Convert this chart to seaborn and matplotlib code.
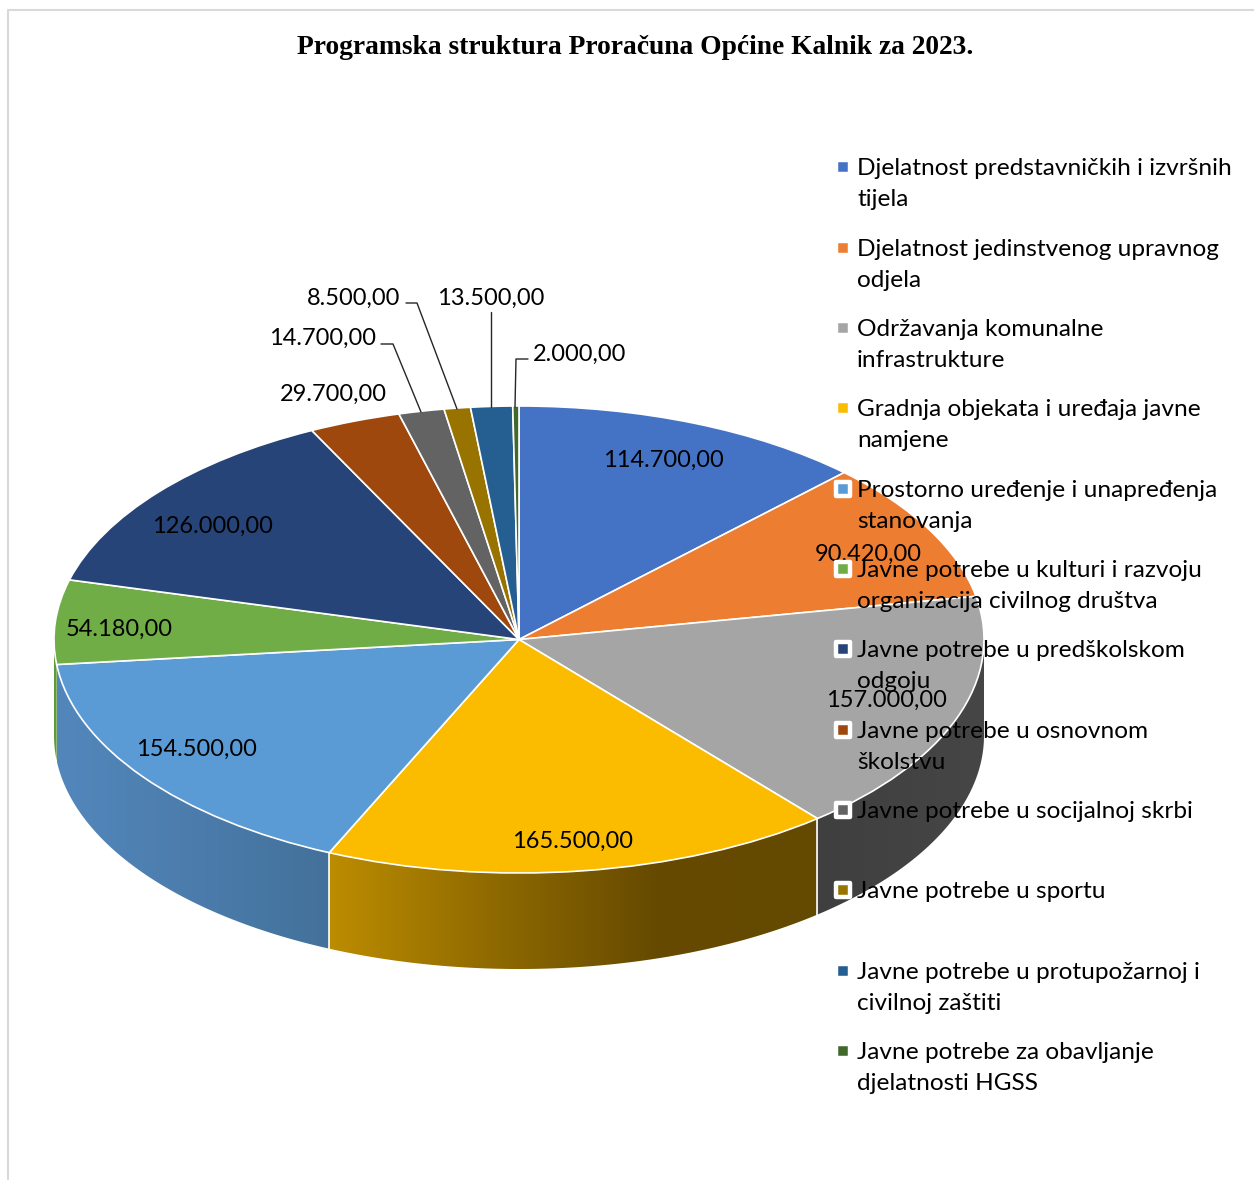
import numpy as np
import matplotlib
matplotlib.use('Agg')
import matplotlib.pyplot as plt
from matplotlib.colors import to_rgb
from matplotlib.patches import Polygon, Rectangle
import seaborn as sns

W, H = 1254, 1180

title = 'Programska struktura Proračuna Općine Kalnik za 2023.'
categories = [
    'Djelatnost predstavničkih i izvršnih\ntijela',
    'Djelatnost jedinstvenog upravnog\nodjela',
    'Održavanja komunalne\ninfrastrukture',
    'Gradnja objekata i uređaja javne\nnamjene',
    'Prostorno uređenje i unapređenja\nstanovanja',
    'Javne potrebe u kulturi i razvoju\norganizacija civilnog društva',
    'Javne potrebe u predškolskom\nodgoju',
    'Javne potrebe u osnovnom\nškolstvu',
    'Javne potrebe u socijalnoj skrbi',
    'Javne potrebe u sportu',
    'Javne potrebe u protupožarnoj i\ncivilnoj zaštiti',
    'Javne potrebe za obavljanje\ndjelatnosti HGSS',
]
values = [114700, 90420, 157000, 165500, 154500, 54180,
          126000, 29700, 14700, 8500, 13500, 2000]
colors = ['#4472C4', '#ED7D31', '#A5A5A5', '#FBBC00', '#5B9BD5', '#70AD47',
          '#264478', '#9E480E', '#636363', '#997300', '#255E91', '#43682B']

# side shading stops, left to right across each visible slice wall
side_stops = {
    2: ['#3F3F3F', '#464646'],
    3: ['#BC8C00', '#8F6A00', '#664A00', '#644900'],
    4: ['#5387BC', '#43719B'],
    5: ['#5F9A3C', '#5F9A3C'],
}

# layout in reference pixels
CX, CY, RX, RY, DEPTH = 519, 639.5, 465, 233.5, 96
label_xy = [(663, 460), (868, 554), (886, 700), (573, 841), (196, 749), (119, 629),
            (212, 526), (333, 394), (323, 338), (354, 298), (491, 298), (580, 354)]
legend_y = [167, 248, 328, 408, 489, 569, 649, 730, 810, 890, 971, 1051]
leaders = [
    [(381, 344), (393, 344), (421, 412)],
    [(406, 303), (417, 303), (457, 409)],
    [(491, 312), (491, 407)],
    [(528, 359), (516, 359), (515, 407)],
]

sns.set_theme(style='white')
plt.rcParams['font.family'] = ['Lato', 'DejaVu Sans']

fig = plt.figure(figsize=(W / 100, H / 100), dpi=100)
ax = fig.add_axes([0, 0, 1, 1])

wedges, _ = ax.pie(values, colors=colors, startangle=90, counterclock=False,
                   wedgeprops={'edgecolor': 'white', 'linewidth': 1.2, 'zorder': 3})

# walls of the 3D pie, only the front half is seen
depth = DEPTH / RY
edges = np.cumsum([0] + values) / sum(values) * 360
for i, stops in side_stops.items():
    a0, a1 = max(edges[i], 90), min(edges[i + 1], 270)
    t = np.radians(np.linspace(a0, a1, 120))
    x, y = np.sin(t), np.cos(t)
    order = np.argsort(x)
    x, y = x[order], y[order]
    outline = np.column_stack([np.r_[x, x[::-1]], np.r_[y, y[::-1] - depth]])
    wall = Polygon(outline, closed=True, facecolor='none', edgecolor='none', transform=ax.transData)
    ax.add_patch(wall)
    shades = np.array([to_rgb(c) for c in sns.blend_palette(stops, n_colors=256)])[None, :, :]
    img = ax.imshow(shades, extent=(x.min(), x.max(), (y - depth).min(), y.max()),
                    aspect='auto', interpolation='bilinear', zorder=1)
    img.set_clip_path(wall)

ax.set_aspect('auto')
ax.set_xlim(-CX / RX, (W - CX) / RX)
ax.set_ylim((CY - H) / RY, CY / RY)
ax.axis('off')

for a in edges[3:5]:
    t = np.radians(a)
    ax.plot([np.sin(t)] * 2, [np.cos(t), np.cos(t) - depth], color='white', lw=1.2, zorder=2)

# overlay in pixels for the texts
ov = fig.add_axes([0, 0, 1, 1], facecolor='none')
ov.set_xlim(0, W)
ov.set_ylim(H, 0)
ov.axis('off')

ov.plot([8, 8, W], [H, 10, 10], color='#D9D9D9', lw=1.5, zorder=1)

ov.text(635.5, 48, title, ha='center', va='center', fontsize=19.85, fontweight='bold',
        family=['Liberation Serif'], color='black')

for v, (x, y) in zip(values, label_xy):
    s = f'{v:,.2f}'.replace(',', 'X').replace('.', ',').replace('X', '.')
    ov.text(x, y, s, ha='center', va='center', fontsize=17, color='black', zorder=5)

for pts in leaders:
    ov.plot(*zip(*pts), color='#262626', lw=1.0, zorder=5)

for name, c, y in zip(categories, colors, legend_y):
    ov.add_patch(Rectangle((836, y - 7), 14, 14, facecolor=c, edgecolor='white',
                           linewidth=3.2, joinstyle='round', zorder=7))
    ov.text(857, y - 9, name, ha='left', va='top', fontsize=17.6, linespacing=1.57,
            color='black', zorder=8)

fig.savefig('out.png', dpi=100)
